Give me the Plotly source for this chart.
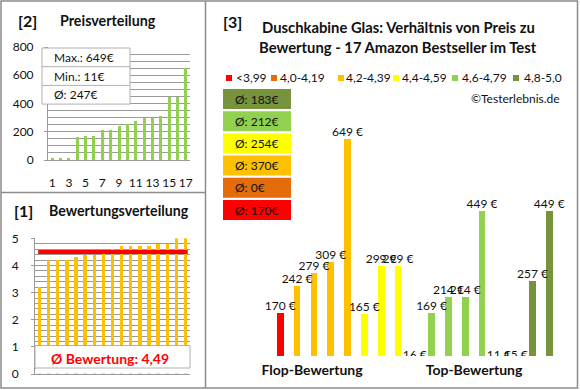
import plotly.graph_objects as go

# ---------------- data ----------------
bar_prices = [170, 242, 279, 309, 649, 165, 299, 299, 16, 169, 214, 214, 449, 11, 15, 257, 449]
bar_groups = [0, 2, 2, 2, 2, 3, 3, 3, 4, 4, 4, 4, 4, 5, 5, 5, 5]
ratings = [3.2, 4.2, 4.2, 4.2, 4.3, 4.4, 4.4, 4.5, 4.6, 4.7, 4.7, 4.7, 4.7, 4.8, 4.8, 5.0, 5.0]
group_labels = ["<3,99", "4,0-4,19", "4,2-4,39", "4,4-4,59", "4,6-4,79", "4,8-5,0"]
group_colors = ["#FF0000", "#E46C0A", "#FFC000", "#FFFF00", "#92D050", "#77933C"]
categories = ["Flop-Bewertung", "Top-Bewertung"]
price_ticks = [0, 200, 400, 600, 800]
rating_ticks = [0, 1, 2, 3, 4, 5]

W, H = 580, 390
FONT = "Lato"
GRID = "#9a9a9a"
FRAME = "#8c8c8c"


def X(px):
    return px / W


def Y(py):
    return 1 - py / H


sorted_prices = sorted(bar_prices)
n = len(bar_prices)
idx = list(range(1, n + 1))

fig = go.Figure()

# ---- Panel [2] Preisverteilung ----
fig.add_trace(go.Bar(x=idx, y=sorted_prices, marker_color="#92D050", width=0.36,
                     xaxis="x", yaxis="y", showlegend=False, hoverinfo="skip"))

# ---- Panel [1] Bewertungsverteilung ----
fig.add_trace(go.Bar(x=idx, y=ratings, marker_color="#FFC000", width=0.37,
                     xaxis="x2", yaxis="y2", showlegend=False, hoverinfo="skip"))
avg_rating = sum(ratings) / len(ratings)
fig.add_trace(go.Scatter(x=[0.85, n + 0.25], y=[avg_rating, avg_rating], mode="lines",
                         line=dict(color="#FF0000", width=4), xaxis="x2", yaxis="y2",
                         showlegend=False, hoverinfo="skip"))

# ---- Panel [3] ----
YMIN3 = 50
xs3 = list(range(n))
fig.add_trace(go.Bar(x=xs3, y=bar_prices, marker_color=[group_colors[g] for g in bar_groups],
                     width=0.4, xaxis="x3", yaxis="y3", showlegend=False, hoverinfo="skip"))
hi = [i for i, p in enumerate(bar_prices) if p >= YMIN3]
lo = [i for i, p in enumerate(bar_prices) if p < YMIN3]
fig.add_trace(go.Scatter(
    x=[xs3[i] for i in hi], y=[bar_prices[i] for i in hi], mode="text",
    text=[f"{bar_prices[i]} €" for i in hi], textposition="top center",
    textfont=dict(family=FONT, size=12, color="#111"),
    cliponaxis=False, xaxis="x3", yaxis="y3", showlegend=False, hoverinfo="skip"))
fig.add_trace(go.Scatter(
    x=[xs3[i] for i in lo], y=[YMIN3] * len(lo), mode="text",
    text=[f"{bar_prices[i]} €" for i in lo], textposition="middle center",
    textfont=dict(family=FONT, size=12, color="#111"),
    cliponaxis=True, xaxis="x3", yaxis="y3", showlegend=False, hoverinfo="skip"))

# x3 layout: two categories spanning the axis
x3_lo, x3_hi = -2.933, 16.34
span = x3_hi - x3_lo
cat_pos = [x3_lo + span * (2 * i + 1) / (2 * len(categories)) for i in range(len(categories))]

axis_common = dict(showspikes=False, fixedrange=True, automargin=False)

fig.update_layout(
    template="none",
    width=W, height=H, margin=dict(l=0, r=0, t=0, b=0, pad=0, autoexpand=False),
    paper_bgcolor="white", plot_bgcolor="rgba(0,0,0,0)",
    font=dict(family=FONT, color="#111"),
    bargap=0, showlegend=False, hovermode=False,
    xaxis=dict(domain=[X(48), X(190)], range=[0.5, n + 0.5], tickmode="array",
               tickvals=[i for i in idx if i % 2 == 1], showgrid=False, zeroline=False,
               showline=True, linecolor=GRID, linewidth=1, ticks="", ticklabelstandoff=12,
               tickfont=dict(size=12, color="#111"), anchor="y", **axis_common),
    yaxis=dict(domain=[Y(160), Y(47)], range=[0, 800], tickmode="array", tickvals=price_ticks,
               showgrid=True, gridcolor=GRID, gridwidth=1, zeroline=False,
               showline=True, linecolor=GRID, ticks="outside", ticklen=3, tickcolor=GRID,
               minor=dict(dtick=50, showgrid=True, gridcolor=GRID, gridwidth=1, ticks=""),
               ticklabelstandoff=8, tickfont=dict(size=12, color="#111"), anchor="x",
               **axis_common),
    xaxis2=dict(domain=[X(35), X(190)], range=[0.5, n + 0.5], showticklabels=False,
                showgrid=False, zeroline=False, showline=True, linecolor=GRID, ticks="",
                anchor="y2", **axis_common),
    yaxis2=dict(domain=[Y(374), Y(238.3)], range=[0, 5], tickmode="array", tickvals=rating_ticks,
                showgrid=True, gridcolor=GRID, zeroline=False, showline=True,
                linecolor=GRID, ticks="outside", ticklen=3, tickcolor=GRID,
                minor=dict(dtick=0.2, showgrid=True, gridcolor=GRID, ticks=""),
                ticklabelstandoff=10, tickfont=dict(size=12, color="#111"), anchor="x2",
                **axis_common),
    xaxis3=dict(domain=[X(231), X(555)], range=[x3_lo, x3_hi], tickmode="array",
                tickvals=cat_pos, ticktext=[f"<b>{c}</b>" for c in categories],
                showgrid=False, zeroline=False, showline=False, ticks="",
                ticklabelstandoff=4, tickfont=dict(size=14, color="#111"), anchor="y3",
                **axis_common),
    yaxis3=dict(domain=[Y(356), Y(100)], range=[YMIN3, YMIN3 + 256 / 0.3623],
                showgrid=False, zeroline=False, showline=False, showticklabels=False,
                ticks="", anchor="x3", **axis_common),
)

shapes = []
annotations = []

# frames
shapes.append(dict(type="rect", xref="paper", yref="paper", x0=X(1), x1=X(577.5), y0=Y(388), y1=Y(1),
                   line=dict(color=FRAME, width=1.5), layer="above"))
shapes.append(dict(type="line", xref="paper", yref="paper", x0=X(205.5), x1=X(205.5), y0=Y(388), y1=Y(1),
                   line=dict(color=FRAME, width=1.5), layer="above"))
shapes.append(dict(type="line", xref="paper", yref="paper", x0=X(1), x1=X(205.5), y0=Y(192.5), y1=Y(192.5),
                   line=dict(color=FRAME, width=1.5), layer="above"))


def head(txt, x, y, size=15, bold=True, anchor="left"):
    annotations.append(dict(text=f"<b>{txt}</b>" if bold else txt, xref="paper", yref="paper",
                            x=X(x), y=Y(y), xanchor=anchor, yanchor="middle", showarrow=False,
                            font=dict(family=FONT, size=size, color="#111")))


head("[2]", 16, 20, 16)
head("Preisverteilung", 58, 20, 14.3)
head("[1]", 12, 210, 16)
head("Bewertungsverteilung", 47, 210, 14.2)
head("[3]", 221, 21, 16)
head("Duschkabine Glas: Verhältnis von Preis zu", 398, 27, 14.8, anchor="center")
head("Bewertung - 17 Amazon Bestseller im Test", 398, 47, 14.8, anchor="center")

# stats box in panel 2
bx0, bx1, by0 = 42, 130, 48
rowh = 18.7
shapes.append(dict(type="rect", xref="paper", yref="paper", x0=X(bx0), x1=X(bx1), y0=Y(by0 + 3 * rowh), y1=Y(by0),
                   fillcolor="white", line=dict(color="#b0b0b0", width=1), layer="above"))
for i in (1, 2):
    shapes.append(dict(type="line", xref="paper", yref="paper", x0=X(bx0), x1=X(bx1),
                       y0=Y(by0 + i * rowh), y1=Y(by0 + i * rowh), line=dict(color="#b0b0b0", width=1),
                       layer="above"))
stats = [f"Max.: {max(bar_prices)}€", f"Min.: {min(bar_prices)}€",
         f"Ø: {round(sum(bar_prices) / len(bar_prices))}€"]
for i, s in enumerate(stats):
    annotations.append(dict(text=s, xref="paper", yref="paper", x=X(52), y=Y(by0 + (i + 0.5) * rowh),
                            xanchor="left", yanchor="middle", showarrow=False,
                            font=dict(family=FONT, size=12, color="#111")))

# rating average box panel 1 (white cover below, then framed box)
shapes.append(dict(type="rect", xref="paper", yref="paper", x0=X(36), x1=X(190), y0=Y(373.5), y1=Y(360),
                   fillcolor="white", line=dict(width=0), layer="above"))
shapes.append(dict(type="rect", xref="paper", yref="paper", x0=X(35), x1=X(190), y0=Y(368), y1=Y(345.5),
                   fillcolor="white", line=dict(color="#b0b0b0", width=1), layer="above"))
annotations.append(dict(text="<b>Ø Bewertung: " + f"{avg_rating:.2f}".replace(".", ",") + "</b>",
                        xref="paper", yref="paper", x=X(110), y=Y(358), xanchor="center", yanchor="middle",
                        showarrow=False, font=dict(family=FONT, size=14, color="#FF0000")))

# legend row panel 3
leg_sq = [226, 271, 338, 393, 452, 513]
leg_tx = [234, 278, 344, 400, 460, 522]
for g, lab in enumerate(group_labels):
    shapes.append(dict(type="rect", xref="paper", yref="paper", x0=X(leg_sq[g]), x1=X(leg_sq[g] + 6),
                       y0=Y(81), y1=Y(75), fillcolor=group_colors[g], line=dict(width=0)))
    annotations.append(dict(text=lab, xref="paper", yref="paper", x=X(leg_tx[g]), y=Y(78),
                            xanchor="left", yanchor="middle", showarrow=False,
                            font=dict(family=FONT, size=12, color="#111")))

annotations.append(dict(text="©Testerlebnis.de", xref="paper", yref="paper", x=X(562), y=Y(98),
                        xanchor="right", yanchor="middle", showarrow=False,
                        font=dict(family=FONT, size=12, color="#111")))

# group averages boxes (top: best group)
for k, g in enumerate(reversed(range(len(group_labels)))):
    vals = [p for p, gg in zip(bar_prices, bar_groups) if gg == g]
    avg = round(sum(vals) / len(vals)) if vals else 0
    top = 89 + k * 22.2
    shapes.append(dict(type="rect", xref="paper", yref="paper", x0=X(223), x1=X(291),
                       y0=Y(top + 20), y1=Y(top), fillcolor=group_colors[g], line=dict(width=0)))
    annotations.append(dict(text=f"Ø: {avg}€", xref="paper", yref="paper", x=X(233), y=Y(top + 10),
                            xanchor="left", yanchor="middle", showarrow=False,
                            font=dict(family=FONT, size=12, color="#111")))

fig.update_layout(shapes=shapes, annotations=annotations)
fig.write_html("out.html", config={"displayModeBar": False, "staticPlot": True},
               post_script="document.body.style.margin='0';")
